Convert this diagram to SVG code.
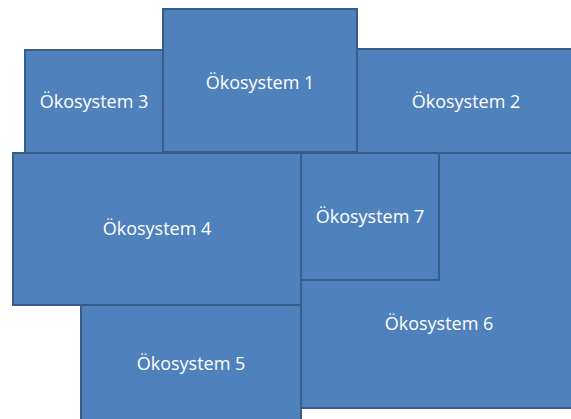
<svg xmlns="http://www.w3.org/2000/svg" width="571" height="419" viewBox="0 0 571 419">
  <style>
    .box { fill: #4f81bd; stroke: #385d8a; stroke-width: 2; }
    .lbl { fill: #ffffff; font-family: "Open Sans", "Liberation Sans", sans-serif; font-size: 18px; text-anchor: middle; }
  </style>
  <rect width="571" height="419" fill="#ffffff"/>
  <g id="connectors"/>
  <g id="oekosystem-6">
    <rect class="box" x="301" y="153" width="278" height="255"/>
    <text class="lbl" x="439" y="330">Ökosystem 6</text>
  </g>
  <g id="oekosystem-5">
    <rect class="box" x="81" y="305" width="220" height="120"/>
    <text class="lbl" x="191" y="370">Ökosystem 5</text>
  </g>
  <g id="oekosystem-4">
    <rect class="box" x="13" y="153" width="288" height="152"/>
    <text class="lbl" x="157" y="235">Ökosystem 4</text>
  </g>
  <g id="oekosystem-7">
    <rect class="box" x="301" y="153" width="138" height="127"/>
    <text class="lbl" x="370" y="223">Ökosystem 7</text>
  </g>
  <g id="oekosystem-3">
    <rect class="box" x="25" y="50" width="138" height="103"/>
    <text class="lbl" x="94" y="108">Ökosystem 3</text>
  </g>
  <g id="oekosystem-2">
    <rect class="box" x="357" y="49" width="220" height="104"/>
    <text class="lbl" x="466" y="108">Ökosystem 2</text>
  </g>
  <g id="oekosystem-1">
    <rect class="box" x="163" y="9" width="194" height="143"/>
    <text class="lbl" x="260" y="89">Ökosystem 1</text>
  </g>
</svg>
